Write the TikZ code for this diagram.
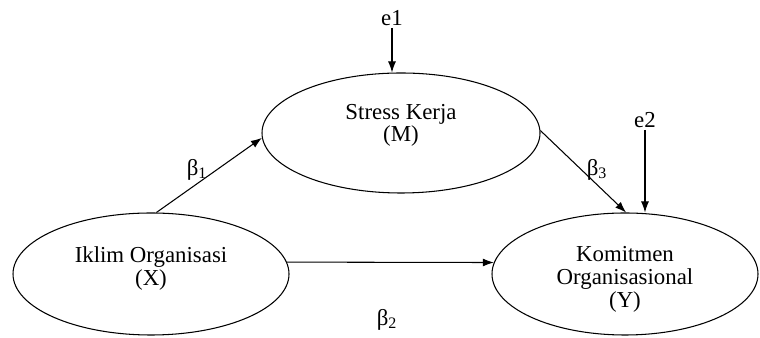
\documentclass[tikz,border=0pt]{standalone}
\usepackage{fontspec}
\setmainfont{Liberation Serif}
\usepackage{tikz}
\usetikzlibrary{shapes.geometric}
\usetikzlibrary{arrows.meta}
\tikzset{latent/.style = {draw, ellipse, inner sep = 0, line width = 0.6pt, font = \fontsize{13}{13}\selectfont}}
\tikzset{link/.style = {-{Latex[length=2.2mm, width=1.6mm]}, line width = 0.6pt}}
\tikzset{lbl/.style = {inner sep = 1pt, font = \fontsize{13}{13.5}\selectfont}}
\newcommand{\twolines}[2]{\raisebox{#1}[0pt][0pt]{\begin{tabular}{@{}c@{}}#2\end{tabular}}}

\begin{document}
\begin{tikzpicture}
    \useasboundingbox (0, 0) rectangle (15.2, 6.76);

    \node [latent, minimum width = 5.56cm, minimum height = 2.4cm] (M) at (8.02, 4.1) {\twolines{1pt}{Stress Kerja\\(M)}};
    \node [latent, minimum width = 5.52cm, minimum height = 2.44cm] (X) at (3.02, 1.28) {\twolines{-0.3pt}{Iklim Organisasi\\(X)}};
    \node [latent, minimum width = 5.32cm, minimum height = 2.44cm] (Y) at (12.5, 1.28) {\twolines{-6.3pt}{Komitmen\\Organisasional\\(Y)}};

    \node [lbl] (e1) at (7.84, 6.4) {e1};
    \node [lbl] (e2) at (12.9, 4.36) {e2};

    \draw [link] (e1.south) -- (e1 |- M.north);
    \draw [link] (e2.south) -- (e2 |- Y.north);

    \draw [link] (X.85) -- (M.182);
    \draw [link] (M.1) -- (Y.89);
    \draw [link] (X.5) -- (Y.175);

    \node [lbl] (b1) at (3.94, 3.36) {β\textsubscript{1}};
    \node [lbl] (b3) at (11.94, 3.36) {β\textsubscript{3}};
    \node [lbl] (b2) at (7.74, 0.36) {β\textsubscript{2}};

  \end{tikzpicture}
\end{document}
